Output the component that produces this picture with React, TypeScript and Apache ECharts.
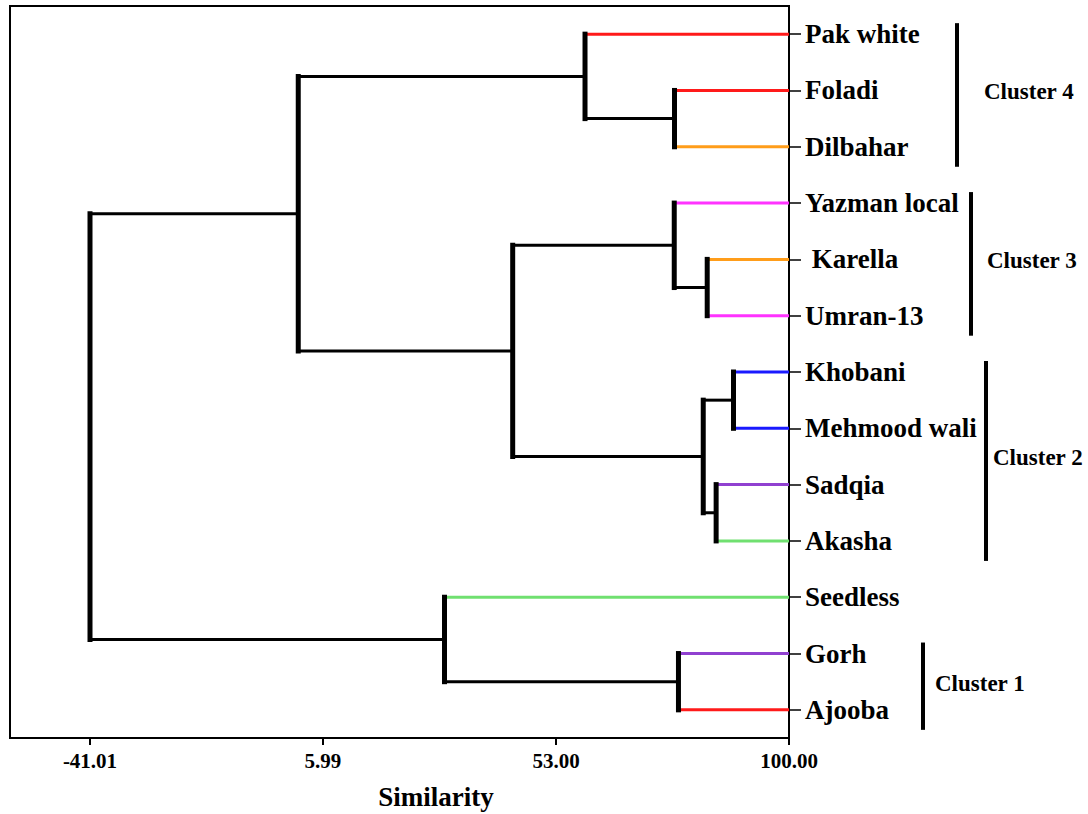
import React, { useEffect, useRef } from "react";
import * as echarts from "echarts";

// Leaves (top to bottom)
const leafNames = [
  "Pak white",
  "Foladi",
  "Dilbahar",
  "Yazman local",
  " Karella",
  "Umran-13",
  "Khobani",
  "Mehmood wali",
  "Sadqia",
  "Akasha",
  "Seedless",
  "Gorh",
  "Ajooba",
];
const leafColors = [
  "#ff1a1a",
  "#ff1a1a",
  "#ff9d1a",
  "#ff33ff",
  "#ff9d1a",
  "#ff33ff",
  "#1a1aff",
  "#1a1aff",
  "#9040d0",
  "#70e070",
  "#70e070",
  "#9040d0",
  "#ff1a1a",
];

// Internal nodes: name, left child, right child, similarity
// children: numbers = leaf index, strings = internal node name
type Child = number | string;
const nodeNames = ["C", "B", "F", "E", "H", "I", "G", "D", "A", "K", "J", "R"];
const nodeLeft: Child[] = [1, 0, 4, 3, 6, 8, "H", "E", "B", 11, 10, "A"];
const nodeRight: Child[] = [2, "C", 5, "F", 7, 9, "I", "G", "D", 12, "K", "J"];
const nodeHeights = [76.9, 58.85, 83.5, 76.85, 88.8, 85.3, 82.7, 44.26, 1.0, 77.7, 30.5, -41.01];

const tickValues = [-41.01, 5.99, 53.0, 100.0];
const xMin = -57.15;
const xMax = 100;

const clusterNames = ["Cluster 4", "Cluster 3", "Cluster 2", "Cluster 1"];
const clusterFirst = [0, 3, 6, 11];
const clusterLast = [2, 5, 9, 12];

const FONT = '"Liberation Serif", "Times New Roman", serif';

type Seg = { x1: number; y1: number; x2: number; y2: number; color: string; w: number };

function buildSegments(): Seg[] {
  const pos: Record<string, { x: number; y: number }> = {};
  const segs: Seg[] = [];
  const get = (c: Child) =>
    typeof c === "number" ? { x: xMax, y: c } : pos[c];
  const colorOf = (c: Child) => (typeof c === "number" ? leafColors[c] : "#000000");
  nodeNames.forEach((n, i) => {
    const a = get(nodeLeft[i]);
    const b = get(nodeRight[i]);
    const h = nodeHeights[i];
    const y = (a.y + b.y) / 2;
    pos[n] = { x: h, y };
    segs.push({ x1: h, y1: a.y, x2: a.x, y2: a.y, color: colorOf(nodeLeft[i]), w: 3 });
    segs.push({ x1: h, y1: b.y, x2: b.x, y2: b.y, color: colorOf(nodeRight[i]), w: 3 });
    segs.push({ x1: h, y1: a.y, x2: h, y2: b.y, color: "#000000", w: 5 });
  });
  return segs;
}

export default function App() {
  const ref = useRef<HTMLDivElement>(null);
  useEffect(() => {
    document.body.style.margin = "0";
    const chart = echarts.init(ref.current!, null, { renderer: "svg" });
    const segs = buildSegments();
    const ordered = segs.slice().sort((a, b) => (a.w === 5 ? 1 : 0) - (b.w === 5 ? 1 : 0));
    chart.setOption({
      animation: false,
      backgroundColor: "#ffffff",
      grid: {
        left: 10,
        top: 6,
        width: 779,
        height: 732,
        show: true,
        borderColor: "#000",
        borderWidth: 2,
      },
      xAxis: {
        type: "value",
        min: xMin,
        max: xMax,
        position: "bottom",
        splitLine: { show: false },
        axisLine: { show: true, onZero: false, lineStyle: { color: "#000", width: 2 } },
        axisTick: {
          show: true,
          length: 7,
          customValues: tickValues,
          lineStyle: { color: "#000", width: 2 },
        },
        axisLabel: {
          customValues: tickValues,
          formatter: (v: number) => v.toFixed(2),
          color: "#000",
          fontFamily: FONT,
          fontWeight: "bold",
          fontSize: 21,
          margin: 12,
        },
      },
      yAxis: [
        {
          type: "category",
          position: "right",
          inverse: true,
          data: leafNames,
          boundaryGap: true,
          axisLine: { show: true, onZero: false, lineStyle: { color: "#000", width: 2 } },
          axisTick: { show: true, length: 12, alignWithLabel: true, lineStyle: { color: "#000", width: 1.5 } },
          axisLabel: {
            color: "#000",
            fontFamily: FONT,
            fontWeight: "bold",
            fontSize: 27,
            margin: 16,
          },
          splitLine: { show: false },
        },
        {
          type: "value",
          inverse: true,
          min: -0.5,
          max: leafNames.length - 0.5,
          show: false,
          axisLine: { show: false, onZero: false },
          axisTick: { show: false },
          axisLabel: { show: false },
          splitLine: { show: false },
        },
      ],
      series: [
        {
          type: "custom",
          yAxisIndex: 1,
          clip: false,
          encode: { x: [0, 2], y: [1, 3] },
          data: ordered.map((s) => [s.x1, s.y1, s.x2, s.y2]),
          renderItem: (params: any, api: any) => {
            const s = ordered[params.dataIndex];
            const p1 = api.coord([api.value(0), api.value(1)]);
            const p2 = api.coord([api.value(2), api.value(3)]);
            return {
              type: "line",
              shape: { x1: p1[0], y1: p1[1], x2: p2[0], y2: p2[1] },
              style: { stroke: s.color, lineWidth: s.w, lineCap: s.w === 5 ? "square" : "butt" },
            };
          },
        },
      ],
    });

    const barX = [957, 971, 986, 923];
    const labelX = [984, 987, 993, 935];
    const graphics: any[] = [];
    clusterNames.forEach((name, i) => {
      const y1 = chart.convertToPixel({ yAxisIndex: 1 }, clusterFirst[i]) as number;
      const y2 = chart.convertToPixel({ yAxisIndex: 1 }, clusterLast[i]) as number;
      const top = y1 - 11;
      const bottom = y2 + 20;
      graphics.push({
        type: "line",
        shape: { x1: barX[i], y1: top, x2: barX[i], y2: bottom },
        style: { stroke: "#000", lineWidth: 4 },
      });
      graphics.push({
        type: "text",
        x: labelX[i],
        y: (top + bottom) / 2 - 3,
        style: {
          text: name,
          fill: "#000",
          font: `bold 23px ${FONT}`,
          textAlign: "left",
          textVerticalAlign: "middle",
        },
      });
    });
    graphics.push({
      type: "text",
      x: 436,
      y: 797,
      style: {
        text: "Similarity",
        fill: "#000",
        font: `bold 27px ${FONT}`,
        textAlign: "center",
        textVerticalAlign: "middle",
      },
    });
    chart.setOption({ graphic: graphics });
    return () => chart.dispose();
  }, []);
  return <div ref={ref} style={{ width: 1088, height: 814 }} />;
}
